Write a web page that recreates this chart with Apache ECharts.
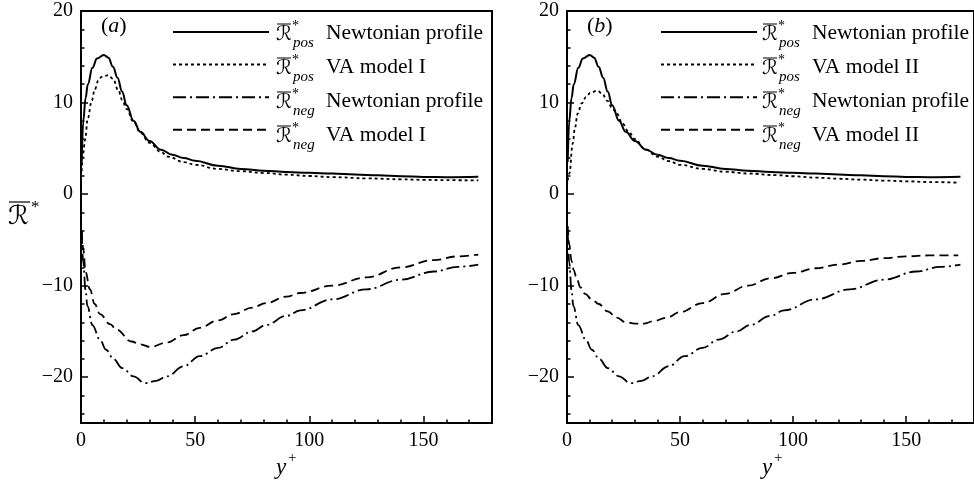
<!DOCTYPE html>
<html>
<head>
<meta charset="utf-8">
<script src="https://cdn.jsdelivr.net/npm/echarts@6/dist/echarts.min.js"></script>
<style>
html,body{margin:0;padding:0;background:#fff;overflow:hidden;}
#chart{width:974px;height:488px;}
</style>
</head>
<body>
<div id="chart"></div>
<script>
// ---- tick values ----
const xMajorTicks = [0, 50, 100, 150];
const xMinorTicks = [10, 20, 30, 40, 60, 70, 80, 90, 110, 120, 130, 140, 160, 170];
const yMajorTicks = [-20, -10, 0, 10, 20];
const yMinorTicks = [-24, -22, -18, -16, -14, -12, -8, -6, -4, -2, 2, 4, 6, 8, 12, 14, 16, 18];

// ---- Newtonian profile (both panels) ----
const newtPosX = [0.3, 1, 2, 3, 5, 7, 10, 12, 14, 16, 18, 20, 23, 26, 30, 35, 40, 45, 50, 60, 70, 80, 90, 100, 110, 120, 130, 140, 150, 160, 174];
const newtPosY = [3.5, 8, 10.5, 12, 13.8, 14.8, 15.2, 14.9, 13.9, 12.7, 11.2, 9.7, 8.0, 6.8, 5.8, 4.85, 4.3, 3.95, 3.65, 3.1, 2.75, 2.55, 2.42, 2.32, 2.25, 2.15, 2.05, 1.95, 1.88, 1.85, 1.9];
const newtNegX = [0.3, 1, 2, 2.8, 5, 8.3, 11, 14.2, 18, 23, 28, 33, 37.6, 45, 52, 60, 67, 75, 81, 90, 96, 110, 125, 140, 154.5, 165, 174];
const newtNegY = [-4, -7.5, -10.5, -12.2, -14.3, -15.9, -17, -18, -19, -19.9, -20.65, -20.4, -19.9, -18.8, -17.7, -16.8, -15.9, -15, -14.3, -13.3, -12.7, -11.5, -10.4, -9.35, -8.45, -7.95, -7.7];

// ---- VA model I (panel a) ----
const va1PosX = [0.3, 1, 1.75, 3, 4.7, 6, 7.6, 9, 10.5, 12, 14, 16.4, 18, 20, 23, 26, 30, 35, 38, 45, 50, 60, 70, 81, 90, 100, 110, 125, 140, 150, 160, 174];
const va1PosY = [2.5, 4.5, 5.9, 8.3, 10.2, 11.4, 12.4, 12.8, 12.9, 13.0, 12.6, 11.3, 10.3, 9.3, 7.9, 6.7, 5.6, 4.6, 4.1, 3.5, 3.2, 2.75, 2.5, 2.3, 2.12, 1.98, 1.86, 1.72, 1.62, 1.56, 1.52, 1.5];
const va1NegX = [0.3, 1, 2, 3.9, 6, 8.3, 12.7, 15.6, 22, 25.9, 30.3, 37.6, 45, 52, 60, 67, 75, 81, 90, 96, 110, 125, 140, 154.5, 165, 174];
const va1NegY = [-4, -6, -8.5, -10.4, -12, -13.1, -14.2, -14.8, -16.1, -16.4, -16.7, -16.2, -15.4, -14.6, -13.8, -13.1, -12.4, -11.9, -11.2, -10.8, -10.0, -9.1, -8.0, -7.2, -6.8, -6.6];

// ---- VA model II (panel b) ----
const va2PosX = [0.3, 1.1, 2.5, 3.5, 4.7, 6.5, 8.4, 10.5, 13.5, 15.5, 17.8, 20, 22, 24.5, 27.3, 30, 34.6, 40, 45, 50, 60, 70, 80, 92.8, 100, 110, 120, 130, 140, 150, 160, 173];
const va2PosY = [1.5, 2.3, 5.5, 7.2, 8.8, 9.9, 10.6, 11.1, 11.3, 11.0, 10.2, 9.4, 8.8, 7.7, 6.8, 6.0, 4.9, 4.1, 3.6, 3.2, 2.75, 2.45, 2.25, 2.07, 1.95, 1.8, 1.68, 1.58, 1.48, 1.4, 1.32, 1.25];
const va2NegX = [0.3, 1, 2, 3, 4, 6, 8, 11, 14, 18, 22, 26, 30, 34, 38, 44, 50, 60, 70, 80, 90, 100, 110, 120, 130, 140, 150, 160, 173];
const va2NegY = [-3.5, -5.5, -7.3, -8.3, -9, -10.2, -10.9, -11.5, -12, -12.8, -13.5, -14, -14.15, -14.15, -13.9, -13.5, -12.9, -11.9, -10.9, -10, -9.2, -8.6, -8.1, -7.7, -7.3, -7, -6.8, -6.7, -6.7];

// ---- legend texts ----
const legendA = ['Newtonian profile', 'VA model I', 'Newtonian profile', 'VA model I'];
const legendB = ['Newtonian profile', 'VA model II', 'Newtonian profile', 'VA model II'];
const legendSubs = ['pos', 'pos', 'neg', 'neg'];
const panelLabels = ['a', 'b'];

function zip(xs, ys) { return xs.map((x, i) => [x, ys[i]]); }

const SERIF = '"Liberation Serif", "Times New Roman", serif';
const tickFont = { fontFamily: SERIF, fontSize: 20, color: '#000' };

function xAxes(grid) {
  return [
    { type: 'value', gridIndex: grid, position: 'bottom', min: 0, max: 180,
      axisLine: { show: true, onZero: false, lineStyle: { color: '#000', width: 2 } },
      axisTick: { show: true, inside: true, length: 7, customValues: xMajorTicks, lineStyle: { color: '#000', width: 1.5 } },
      axisLabel: Object.assign({ show: true, margin: 8, customValues: xMajorTicks }, tickFont),
      splitLine: { show: false } },
    { type: 'value', gridIndex: grid, position: 'bottom', min: 0, max: 180,
      axisLine: { show: false, onZero: false },
      axisTick: { show: true, inside: true, length: 3.5, customValues: xMinorTicks, lineStyle: { color: '#000', width: 1.5 } },
      axisLabel: { show: false },
      splitLine: { show: false } }
  ];
}
function yAxes(grid) {
  return [
    { type: 'value', gridIndex: grid, position: 'left', min: -25, max: 20,
      axisLine: { show: true, onZero: false, lineStyle: { color: '#000', width: 2 } },
      axisTick: { show: true, inside: true, length: 7, customValues: yMajorTicks, lineStyle: { color: '#000', width: 1.5 } },
      axisLabel: Object.assign({ show: true, margin: 8, customValues: yMajorTicks,
        formatter: v => String(v).replace('-', '\u2212') }, tickFont),
      splitLine: { show: false } },
    { type: 'value', gridIndex: grid, position: 'left', min: -25, max: 20,
      axisLine: { show: false, onZero: false },
      axisTick: { show: true, inside: true, length: 3.5, customValues: yMinorTicks, lineStyle: { color: '#000', width: 1.5 } },
      axisLabel: { show: false },
      splitLine: { show: false } }
  ];
}

const styles = {
  solid: { type: 'solid', width: 2 },
  dotted: { type: [3, 3], width: 1.8 },
  dashdot: { type: [13, 4, 2, 4], width: 1.8 },
  dashed: { type: [9, 5], width: 1.8 }
};

function mkSeries(name, axisIdx, xs, ys, st) {
  return { name: name, type: 'line', xAxisIndex: axisIdx, yAxisIndex: axisIdx,
    data: zip(xs, ys), symbol: 'none', smooth: 0.4, smoothMonotone: 'x', silent: true,
    lineStyle: Object.assign({ color: '#000' }, st), itemStyle: { color: '#000' } };
}

const namesA = ['a_pos_newt', 'a_pos_va', 'a_neg_newt', 'a_neg_va'];
const namesB = ['b_pos_newt', 'b_pos_va', 'b_neg_newt', 'b_neg_va'];

const series = [
  mkSeries(namesA[0], 0, newtPosX, newtPosY, styles.solid),
  mkSeries(namesA[1], 0, va1PosX, va1PosY, styles.dotted),
  mkSeries(namesA[2], 0, newtNegX, newtNegY, styles.dashdot),
  mkSeries(namesA[3], 0, va1NegX, va1NegY, styles.dashed),
  mkSeries(namesB[0], 2, newtPosX, newtPosY, styles.solid),
  mkSeries(namesB[1], 2, va2PosX, va2PosY, styles.dotted),
  mkSeries(namesB[2], 2, newtNegX, newtNegY, styles.dashdot),
  mkSeries(namesB[3], 2, va2NegX, va2NegY, styles.dashed)
];

function legendCfg(names, left) {
  return { data: names, orient: 'vertical', left: left, top: 25, itemWidth: 96, itemHeight: 14,
    itemGap: 20, selectedMode: false, formatter: () => '', padding: 0,
    itemStyle: { opacity: 0 }, textStyle: { fontSize: 1 } };
}

// ---- graphic texts (labels, legend text, axis titles) ----
const graphics = [];
function txt(x, y, text, font, align) {
  graphics.push({ type: 'text', x: x, y: y, silent: true,
    style: { text: text, font: font, fill: '#000', textAlign: align || 'left', textVerticalAlign: 'middle' } });
}
function hline(x1, x2, y, w) {
  graphics.push({ type: 'line', silent: true, shape: { x1: x1, y1: y, x2: x2, y2: y },
    style: { stroke: '#000', lineWidth: w || 1 } });
}
function legendText(bx, tx, labels) {
  for (let i = 0; i < 4; i++) {
    const ry = 32 + 34 * i;
    txt(bx, ry + 3, '\u211B', '20px "DejaVu Serif", "DejaVu Sans", serif');
    hline(bx + 1, bx + 15, ry - 8, 1);
    txt(bx + 16, ry - 6, '*', '14px ' + SERIF);
    txt(bx + 17, ry + 11, legendSubs[i], 'italic 15px ' + SERIF);
    txt(tx, ry + 1, labels[i], '21.5px ' + SERIF);
  }
}
legendText(276, 326, legendA);
legendText(762, 812, legendB);

// panel labels
function panelLabel(x, letter) {
  graphics.push({ type: 'text', x: x, y: 26, silent: true,
    style: { text: '{n|(}{i|' + letter + '}{n|)}', textVerticalAlign: 'middle', fill: '#000',
      rich: { n: { fontFamily: SERIF, fontSize: 22, fill: '#000' }, i: { fontFamily: SERIF, fontStyle: 'italic', fontSize: 22, fill: '#000' } } } });
}
panelLabel(101, panelLabels[0]);
panelLabel(587, panelLabels[1]);

// y-axis title
txt(8, 217, '\u211B', '26px "DejaVu Serif", "DejaVu Sans", serif');
hline(9, 30, 202, 1.2);
txt(31, 208, '*', '17px ' + SERIF);

// x-axis titles
function xTitle(x) {
  txt(x, 468, 'y', 'italic 23px ' + SERIF);
  txt(x + 12, 458, '+', '15px ' + SERIF);
}
xTitle(276);
xTitle(762);

const option = {
  backgroundColor: '#fff',
  animation: false,
  grid: [
    { left: 81, top: 11, width: 411, height: 412, show: true, borderColor: '#000', borderWidth: 2, containLabel: false },
    { left: 567, top: 11, width: 412, height: 412, show: true, borderColor: '#000', borderWidth: 2, containLabel: false }
  ],
  xAxis: xAxes(0).concat(xAxes(1)),
  yAxis: yAxes(0).concat(yAxes(1)),
  legend: [legendCfg(namesA, 172), legendCfg(namesB, 660)],
  series: series,
  graphic: graphics
};

const chart = echarts.init(document.getElementById('chart'), null, { renderer: 'canvas' });
chart.setOption(option);
</script>
</body>
</html>
